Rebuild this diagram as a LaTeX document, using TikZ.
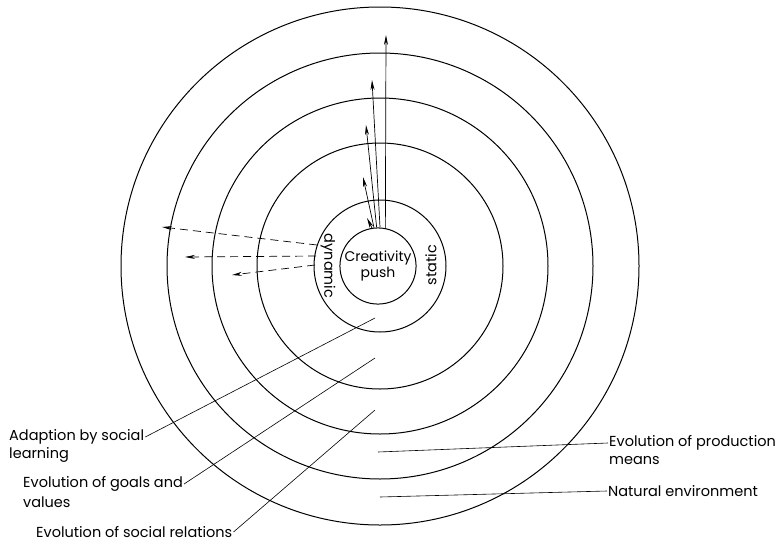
\documentclass[tikz,border=0pt]{standalone}
\usepackage{fontspec}
\setmainfont{Poppins}
\usetikzlibrary{arrows.meta,positioning}
\tikzset{
 ring/.style={line width=1pt},
 lbl/.style={font=\fontsize{14.5}{16}\selectfont,inner sep=1pt},
 leader/.style={line width=0.6pt},
 push/.style={line width=0.7pt,-{Stealth[length=10pt,width=4pt]}},
 pull/.style={line width=0.7pt,dash pattern=on 8pt off 5pt,-{Stealth[length=10pt,width=4pt]}},
}
\begin{document}
\begin{tikzpicture}[x=1pt,y=-1pt]
 \useasboundingbox (0,0) rectangle (782,544);
 \coordinate (c) at (380,266);
 % rings
 \foreach \r in {66,123,168,213,259}
  \draw[ring] (c) circle (\r pt);
 \node[circle,draw,ring,minimum size=76pt,inner sep=0pt,align=center,lbl,font=\fontsize{14}{16}\selectfont] (push) at (378,266) {Creativity\\push};
 \node[lbl,rotate=-90] (dyn) at (328,266) {dynamic};
 \node[lbl,rotate=90] (stat) at (431,265) {static};
 % creativity push arrows
 \coordinate (t1) at (367,218);
 \coordinate (t2) at (363,177);
 \coordinate (t3) at (366,125);
 \coordinate (t4) at (372,80);
 \coordinate (t5) at (386,35);
 \draw[push] (push.99) -- (t1);
 \draw[push] (push.96) -- (t2);
 \draw[push] (push.92) -- (t3);
 \draw[push] (push.87) -- (t4);
 \draw[push] (push.79) -- (t5);
 % dynamic arrows
 \coordinate (d1) at (317,245);
 \coordinate (d2) at (316,256);
 \coordinate (d3) at (315,265);
 \coordinate (e1) at (162,227);
 \coordinate (e2) at (185,257);
 \coordinate (e3) at (232,275);
 \draw[pull] (d1) -- (e1);
 \draw[pull] (d2) -- (e2);
 \draw[pull] (d3) -- (e3);
 % labels
 \node[lbl,anchor=west] (adapt) at (8,437) {Adaption by social};
 \node[lbl,anchor=west] (adapt2) at (8,455) {learning};
 \node[lbl,anchor=west] (goals) at (22,484) {Evolution of goals and};
 \node[lbl,anchor=west] (goals2) at (22,502) {values};
 \node[lbl,anchor=west] (social) at (35,532) {Evolution of social relations};
 \node[lbl,anchor=west] (prod) at (608,443) {Evolution of production};
 \node[lbl,anchor=west] (prod2) at (608,461) {means};
 \node[lbl,anchor=west] (nat) at (607,491) {Natural environment};
 \coordinate (a1) at (375,318);
 \coordinate (g1) at (375,358);
 \coordinate (s1) at (375,410);
 \coordinate (p1) at (378,452);
 \coordinate (n1) at (380,497);
 \draw[leader] (adapt.east) -- (a1);
 \draw[leader] (goals.east) -- (g1);
 \draw[leader] (social.east) -- (s1);
 \draw[leader] (p1) -- (prod.west);
 \draw[leader] (n1) -- (nat.west);
\end{tikzpicture}
\end{document}
